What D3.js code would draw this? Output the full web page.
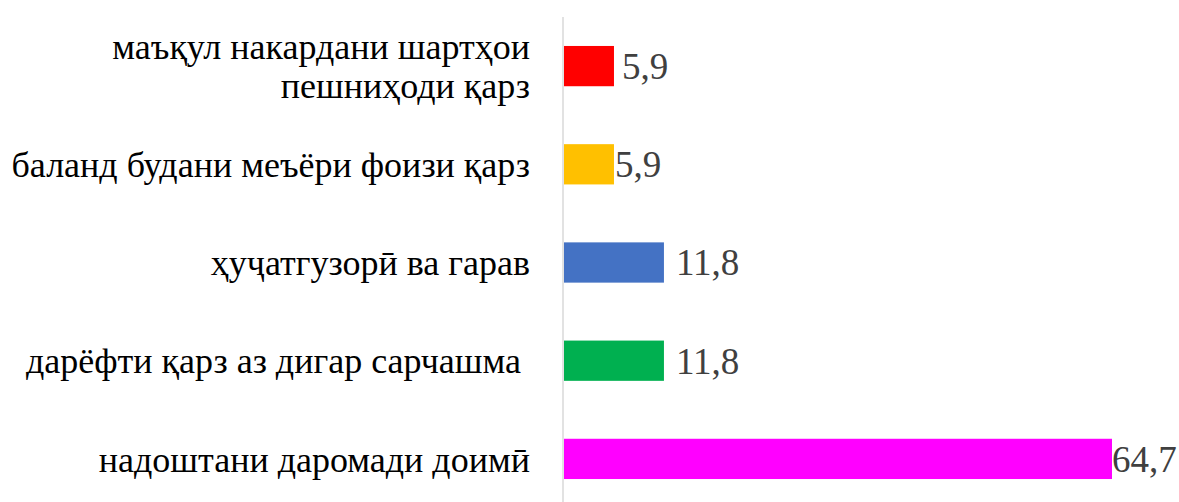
<!DOCTYPE html>
<html>
<head>
<meta charset="utf-8">
<script src="https://cdnjs.cloudflare.com/ajax/libs/d3/7.8.5/d3.min.js"></script>
<style>
  body { margin: 0; background: #fff; }
  text { font-family: "Liberation Serif", "DejaVu Serif", serif; }
</style>
</head>
<body>
<div id="chart"></div>
<script>
// categories top to bottom, label lines split where the original wraps
const categories = [
  ["маъқул накардани шартҳои", "пешниҳоди қарз"],
  ["баланд будани меъёри фоизи қарз"],
  ["ҳуҷатгузорӣ ва гарав"],
  ["дарёфти қарз аз дигар сарчашма "],
  ["надоштани даромади доимӣ"]
]
const values = [5.9, 5.9, 11.8, 11.8, 64.7]
const valueLabels = ["5,9", "5,9", "11,8", "11,8", "64,7"]
const colors = ["#ff0000", "#ffc000", "#4472c4", "#00b050", "#ff00ff"]
// data labels in the original are nudged by hand
const labelNudge = [8, 1, 12, 12, 0]

var width = 1179, height = 502
var margin = {top: 17, left: 563, right: 0, bottom: -6}

var svg = d3.select("#chart")
  .append("svg")
    .attr("width", width)
    .attr("height", height)

var x = d3.scaleLinear()
  .domain([0, 64.7])
  .range([margin.left, 1111])

var y = d3.scaleBand()
  .domain(d3.range(values.length))
  .range([margin.top, height - margin.bottom])
  .paddingInner(0.59)
  .paddingOuter(0.295)

// vertical category axis line
svg.append("line")
  .attr("x1", margin.left).attr("x2", margin.left)
  .attr("y1", margin.top).attr("y2", height)
  .style("stroke", "#d9d9d9")
  .style("stroke-width", 1.5)

svg.append("g")
  .selectAll("rect")
  .data(values)
  .enter()
  .append("rect")
    .attr("x", x(0) + 1)
    .attr("y", function (d, i) { return y(i); })
    .attr("width", function (d) { return x(d) - x(0); })
    .attr("height", y.bandwidth())
    .style("fill", function (d, i) { return colors[i]; })

svg.append("g")
  .selectAll("text")
  .data(values)
  .enter()
  .append("text")
    .attr("x", function (d, i) { return x(d) + 1 + labelNudge[i]; })
    .attr("y", function (d, i) { return y(i) + y.bandwidth() / 2; })
    .attr("dy", "0.35em")
    .style("font-size", "37px")
    .style("fill", "#404040")
    .text(function (d, i) { return valueLabels[i]; })

var lineH = 39
var cat = svg.append("g")
  .selectAll("text")
  .data(categories)
  .enter()
  .append("text")
    .attr("text-anchor", "end")
    .attr("xml:space", "preserve")
    .style("font-size", "36px")
    .style("fill", "#000")
    .style("white-space", "pre")
    .attr("y", function (d, i) { return y(i) + y.bandwidth() / 2; })

cat.selectAll("tspan")
  .data(function (d) { return d.map(function (t, j) { return {t: t, j: j, n: d.length}; }); })
  .enter()
  .append("tspan")
    .attr("x", 530)
    .attr("dy", function (s) { return s.j === 0 ? (0.35 * 36 - (s.n - 1) * lineH / 2) + "px" : lineH + "px"; })
    .text(function (s) { return s.t; })
</script>
</body>
</html>
